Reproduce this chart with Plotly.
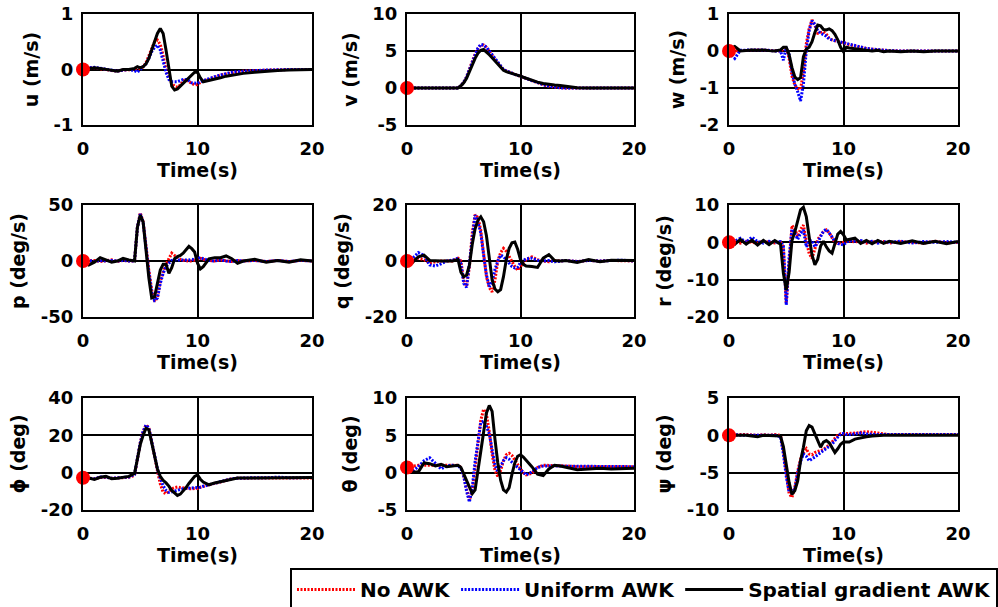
import plotly.graph_objects as go

# ---------------- data ----------------
T = [0, 0.5, 1, 1.5, 2, 2.5, 3, 3.5, 4, 4.5, 4.75, 5, 5.25, 5.5, 5.75, 6, 6.25, 6.5, 6.75,
     7, 7.25, 7.5, 7.75, 8, 8.25, 8.5, 8.75, 9, 9.25, 9.5, 9.75, 10, 10.25, 10.5, 11, 11.5,
     12, 12.5, 13, 13.5, 14, 15, 16, 17, 18, 19, 20]

SERIES_NAMES = ["No AWK", "Uniform AWK", "Spatial gradient AWK"]

# u (m/s)
U_NO = [0, 0.03, 0.03, 0.02, 0.0, -0.02, -0.03, -0.01, 0.0, 0.0, 0.0, 0.02, 0.05, 0.12, 0.25, 0.4, 0.5, 0.53, 0.45,
        0.25, 0.0, -0.15, -0.25, -0.3, -0.32, -0.28, -0.2, -0.19, -0.22, -0.26, -0.28, -0.27, -0.24, -0.2, -0.18, -0.14,
        -0.1, -0.08, -0.06, -0.04, -0.03, -0.02, -0.01, 0, 0, 0, 0]
U_UNI = [0, 0.03, 0.04, 0.02, 0.0, -0.02, -0.03, -0.01, 0.0, -0.02, -0.05, 0.0, 0.05, 0.1, 0.2, 0.32, 0.4, 0.44, 0.35,
         0.15, -0.05, -0.18, -0.22, -0.22, -0.22, -0.2, -0.18, -0.18, -0.2, -0.24, -0.25, -0.25, -0.22, -0.2, -0.17, -0.13,
         -0.1, -0.07, -0.05, -0.04, -0.03, -0.02, -0.01, 0, 0, 0, 0]
U_SG = [0, 0.02, 0.03, 0.02, 0.0, -0.02, -0.03, 0.0, 0.0, 0.02, 0.05, 0.03, 0.05, 0.1, 0.2, 0.35, 0.5, 0.65, 0.74,
        0.65, 0.35, 0.0, -0.3, -0.37, -0.35, -0.3, -0.25, -0.2, -0.15, -0.1, -0.05, -0.05, -0.15, -0.22, -0.2, -0.17,
        -0.15, -0.12, -0.1, -0.08, -0.07, -0.05, -0.03, -0.02, -0.01, -0.01, 0]

# v (m/s)
V_NO = [0, 0, 0, 0, 0, 0, 0, 0, 0, 0, 0.3, 0.8, 1.5, 2.5, 3.6, 4.6, 5.3, 5.8, 5.8,
        5.5, 5.0, 4.4, 3.9, 3.4, 2.9, 2.5, 2.3, 2.1, 2.0, 1.85, 1.7, 1.55, 1.4, 1.25, 0.95, 0.7,
        0.45, 0.25, 0.1, 0.03, 0, 0, 0, 0, 0, 0, 0]
V_UNI = [0, 0, 0, 0, 0, 0, 0, 0, 0, 0, 0.3, 0.8, 1.5, 2.5, 3.6, 4.6, 5.4, 5.9, 5.8,
         5.5, 5.0, 4.4, 3.9, 3.4, 2.9, 2.5, 2.3, 2.1, 2.0, 1.85, 1.7, 1.55, 1.4, 1.25, 0.95, 0.7,
         0.45, 0.25, 0.1, 0.03, 0, 0, 0, 0, 0, 0, 0]
V_SG = [0, 0, 0, 0, 0, 0, 0, 0, 0, 0, 0.3, 0.7, 1.3, 2.2, 3.2, 4.0, 4.7, 5.1, 5.2,
        4.9, 4.5, 4.1, 3.7, 3.2, 2.8, 2.4, 2.2, 2.1, 2.0, 1.9, 1.75, 1.6, 1.45, 1.3, 1.0, 0.8,
        0.6, 0.45, 0.4, 0.35, 0.25, 0.05, 0, 0, 0, 0, 0]

# w (m/s)
W_NO = [0.0, 0.0, 0.0, 0.01, 0.02, 0.03, 0.02, 0.0, 0.0, 0.0, 0.05, 0.1, -0.2, -0.68, -0.92, -1.02, -1.04, -0.55, 0.2,
        0.6, 0.84, 0.7, 0.48, 0.5, 0.52, 0.45, 0.35, 0.3, 0.28, 0.27, 0.26, 0.22, 0.2, 0.17, 0.13, 0.1,
        0.07, 0.05, 0.03, 0.02, 0.01, 0, 0, 0, 0, 0, 0]
W_UNI = [-0.05, -0.2, 0.02, 0.03, 0.02, 0.03, 0.03, 0.01, 0.0, 0.0, -0.25, 0.1, -0.1, -0.55, -0.9, -1.1, -1.35, -0.9, 0.0,
         0.55, 0.82, 0.72, 0.55, 0.48, 0.45, 0.4, 0.32, 0.3, 0.28, 0.27, 0.25, 0.22, 0.2, 0.18, 0.13, 0.1,
         0.07, 0.05, 0.03, 0.02, 0.01, 0, 0, 0, 0, 0, 0]
W_SG = [0.05, 0.12, 0.0, 0.02, 0.03, 0.02, 0.03, 0.01, 0.0, 0.03, 0.1, 0.1, -0.1, -0.45, -0.7, -0.77, -0.72, -0.15, 0.05,
        0.1, 0.25, 0.5, 0.7, 0.68, 0.58, 0.57, 0.6, 0.55, 0.45, 0.3, 0.1, -0.02, 0.1, 0.08, 0.06, 0.04,
        0.02, 0.0, 0.02, -0.02, 0.0, -0.02, 0.0, -0.02, 0.0, 0.0, 0.0]

# p (deg/s)
P_NO = [0, 0, 0.5, -0.5, 0.5, 1, -0.5, 0.5, 0, 0, 30, 43, 35, 12, -8, -26, -36, -33, -18,
        -10, -3, 2, 7, 5, 3, 1.5, 0.5, 0, 0, 0, 0.5, 1.5, 2.4, 1.5, 0.5, 0,
        1, 0, -0.5, 0.5, 0, 0.5, -0.5, 0.5, -0.5, 0.5, 0]
P_UNI = [0, 0.5, -0.5, 0.5, 0, 0.5, 0, 0.5, 0, 0, 30, 42, 35, 12, -10, -28, -35, -33, -20,
         -11, -5, -2, 0.5, 1, 1, 1, 0.5, 0.5, 1, 1.5, 1, 2, 3, 2, 0.5, 0,
         1, 0, -0.5, 0.5, 0, 0.5, -0.5, 0.5, -0.5, 0.5, 0]
P_SG = [0, -3.5, -1, 3, 1, -1, 0, 2.4, 1, 0, 30, 41, 35, 10, -15, -33, -32, -20, -8,
        -3, -3, -11, -6, 2, 4, 5, 7, 10, 13, 11, 8, -2, -7, -5, 2, 3,
        3, 4.5, 2, -2, 0, 1.5, -1, 0.5, -1, 1, 0]

# q (deg/s)
Q_NO = [0, 0.5, 1, 0.5, -0.8, -0.3, 0, 0, 0, 1, 0, -7, -9, -2, 10, 16.5, 15.5, 11, 3,
        -5.6, -9.5, -11, -6.8, 0, 3, 4.5, 3.5, 1.5, -0.5, -2.0, -3.2, -2.0, -0.8, 0.5, 1.5, 0.5,
        0, -0.3, 0.2, 0, 0.2, -0.2, 0.2, 0, 0.2, 0, 0]
Q_UNI = [0, 1, 3, 2, -1.4, -1.8, -1.0, 0, 0.3, 1, -1, -8, -9.4, -1, 9, 16.4, 14, 10, 2,
         -5, -9.2, -7.4, -3, 0, 2.1, 1.5, 0.4, -1.0, -2.0, -2.5, -2.2, -0.5, 0.3, 0.8, 1.0, 0.3,
         0, 0.2, -0.3, 0, 0.2, -0.2, 0.2, 0, 0.2, 0.3, 0]
Q_SG = [0, -0.5, 1.5, 2.1, 0.2, 0, 0, 0, 0, 0.5, -4, -5.6, -5, -1.5, 6, 11.5, 14.6, 15.8, 14,
        9, 1.5, -6.8, -10, -11, -10.2, -5.6, 0.5, 4.5, 6.5, 6.8, 4.2, 0.5, -1.2, -1.8, -2.0, -2.3,
        1.0, 2.3, 0.2, 0, 0.2, -0.5, 0.5, -0.3, 0.3, 0.3, 0.2]

# r (deg/s)
R_NO = [0, 0.2, -0.2, 0.3, 0, -0.2, 0.3, 0, -0.2, 0, -1.2, -16.3, -6, 4.5, 3.5, 1.5, 3.5, 4.6, 0.5,
        -3, -4.3, -1.5, 0.8, 1.8, 2.8, 3.3, 2.6, 1.2, 0, -0.3, -0.2, 0, 0.3, 0.4, 0.1, 0.3,
        -0.2, 0.2, 0, 0.2, -0.2, 0.2, 0, -0.2, 0.3, -0.1, 0]
R_UNI = [0, 0.3, 1.1, 0, 1.4, 0.2, -0.2, 0.3, 0, 0.2, -1, -16.8, -4, 3.5, 2.5, 0.8, 2.5, 3.3, -1.2,
         0.3, 0.5, -1.2, 0, 1.5, 3.0, 3.5, 2.6, 1.5, 0.2, -0.3, -0.5, -0.7, 0, 0.5, 0.3, 0.5,
         0, 0.3, -0.2, 0.2, 0, 0.3, -0.2, 0.2, 0, 0.2, 0]
R_SG = [0, -0.5, 0.8, -0.5, 0.6, -0.7, 0.5, -0.6, 0.5, -0.5, -8.3, -12.8, -8, 0.5, 2.8, 5.5, 8.7, 9.4, 6.9,
        1.5, -3.4, -6, -4.5, -1, 0.3, -1.2, -2.3, -2.9, -0.5, 2.2, 2.9, 2.0, 0.6, 0.8, 1.1, -0.3,
        0.5, -0.4, 0.5, -0.3, 0.3, -0.3, 0.4, -0.3, 0.3, -0.4, 0.2]

# phi (deg)
PHI_NO = [-2.7, -3, -3.2, -2.6, -2.5, -3, -2.8, -2.8, -2.5, -1.5, 8, 16, 22, 25.6, 24, 17, 9, 1, -6,
          -10.5, -11.3, -10, -8.6, -8, -7.7, -8, -8.3, -8.6, -8.6, -8.6, -8.6, -8.5, -7.8, -7.3, -6.5, -5.7,
          -5, -4, -3.2, -3, -2.9, -2.9, -2.9, -2.8, -2.9, -2.8, -2.8]
PHI_UNI = [-2.7, -3, -3.3, -2.3, -2.3, -3, -2.8, -2.5, -2.3, -1, 8, 16, 22, 25.5, 24, 17, 9, 2, -3,
           -7, -9.5, -10.5, -10.3, -10, -9.5, -9, -8.6, -8.5, -8.4, -8.3, -8.3, -8.2, -7.8, -7.3, -6.5, -5.7,
           -5, -4, -3.2, -3, -2.8, -2.7, -2.7, -2.4, -2.7, -2.6, -2.6]
PHI_SG = [-2.7, -2.9, -3.6, -2.5, -2.0, -3.2, -3.0, -2.3, -2.0, -0.5, 8, 15, 20, 23.8, 23, 16, 8, 2, -2,
          -4.1, -5.5, -7.2, -9.5, -11, -12.2, -11.5, -10, -8, -5.8, -3.8, -2, -1.2, -3.5, -5, -6.5, -5.5,
          -4.8, -4.1, -3.2, -2.9, -2.9, -2.8, -2.7, -2.6, -2.6, -2.5, -2.6]

# theta (deg)
TH_NO = [0.7, 0.9, 1.0, 1.0, 1.0, 1.0, 1.0, 1.0, 1.0, 1.0, 0.7, -0.5, -2.2, -3.7, -2.5, 0.5, 3.5, 7, 8.5,
         7.8, 5.5, 2.5, 0.3, -0.5, 0.3, 1.6, 2.4, 2.6, 2.3, 1.7, 1.0, 0.5, 0.0, -0.3, -0.1, 0.7,
         1.0, 1.0, 0.9, 0.9, 0.9, 0.8, 0.8, 0.8, 0.9, 0.8, 0.8]
TH_UNI = [0.7, 0.2, 0.8, 1.6, 2.0, 1.2, 0.5, 0.9, 1.0, 0.9, 0.6, -0.5, -2.5, -3.9, -2.0, 1.5, 4.2, 6.7, 6.9,
          6.2, 5.2, 2.8, 1.0, 0.15, 0.8, 1.6, 2.0, 1.8, 1.4, 1.0, 0.7, 0.4, 0.0, -0.3, 0.1, 0.7,
          0.9, 0.9, 0.8, 0.8, 0.8, 0.8, 0.8, 0.8, 0.8, 0.8, 0.8]
TH_SG = [0.7, 0.1, 0.1, 1.3, 1.2, 0.9, 1.1, 0.8, 0.9, 1.0, 0.7, -0.2, -1.0, -2.0, -2.8, -2.3, 0.2, 3, 5.3,
         8.0, 9, 8.2, 4.5, 1.3, -1.0, -2.3, -2.6, -2.0, -0.2, 1.3, 2.2, 2.4, 2.1, 1.7, 0.8, -0.2,
         -0.4, 0.5, 1.0, 0.9, 0.7, 0.4, 0.5, 0.6, 0.5, 0.6, 0.6]

# psi (deg)
PSI_NO = [0.0, 0.1, 0.1, 0.1, 0.0, 0.0, 0.1, 0.0, 0.1, 0.0, -2.0, -5.2, -7.8, -8.3, -7, -4.8, -3.2, -2.3, -1.8,
          -2.5, -2.6, -2.3, -2.2, -2.1, -1.9, -1.6, -1.3, -0.9, -0.4, 0.0, 0.2, 0.2, 0.2, 0.2, 0.3, 0.4,
          0.5, 0.4, 0.3, 0.25, 0.1, 0.1, 0.1, 0.1, 0.1, 0.1, 0.1]
PSI_UNI = [0, 0.1, 0.0, 0.0, 0.0, 0.0, 0.0, 0.0, 0.0, -0.2, -2.5, -5.5, -7.6, -7.6, -7.2, -5, -3.5, -2.5, -2.8,
           -3.4, -3.2, -2.9, -2.6, -2.3, -2.1, -1.8, -1.5, -1.2, -0.7, -0.3, 0.2, 0.25, 0.1, 0.1, 0.2, 0.3,
           0.2, 0.1, 0.1, 0.1, 0.1, 0.1, 0.1, 0.1, 0.1, 0.1, 0.1]
PSI_SG = [0, 0.0, 0.1, 0.0, -0.1, -0.2, 0.0, 0.0, 0.0, -0.1, -1.5, -3.8, -6.3, -7.9, -7.4, -6.1, -3.4, -1.6, 0.6,
          1.3, 1.1, 0.2, -0.8, -1.6, -0.9, -0.7, -1.0, -1.6, -2.3, -1.8, -1.2, -0.9, -0.9, -0.9, -0.5, -0.3,
          -0.2, -0.1, 0, 0, 0, 0, 0, 0, 0, 0, 0]

Y_TITLES = ["u (m/s)", "v (m/s)", "w (m/s)",
            "p (deg/s)", "q (deg/s)", "r (deg/s)",
            "ϕ (deg)", "θ (deg)", "ψ (deg)"]
Y_TICKS = [[-1, 0, 1], [-5, 0, 5, 10], [-2, -1, 0, 1],
           [-50, 0, 50], [-20, 0, 20], [-20, -10, 0, 10],
           [-20, 0, 20, 40], [-5, 0, 5, 10], [-10, -5, 0, 5]]
X_TITLE = "Time(s)"
X_TICKS = [0, 10, 20]

PANELS = [
    (U_NO, U_UNI, U_SG), (V_NO, V_UNI, V_SG), (W_NO, W_UNI, W_SG),
    (P_NO, P_UNI, P_SG), (Q_NO, Q_UNI, Q_SG), (R_NO, R_UNI, R_SG),
    (PHI_NO, PHI_UNI, PHI_SG), (TH_NO, TH_UNI, TH_SG), (PSI_NO, PSI_UNI, PSI_SG),
]

# ---------------- styling / layout ----------------
W, H = 998, 607
COLS_PX = [(83, 312), (407, 634), (729, 958)]
ROWS_PX = [(14, 125), (205, 317), (398, 510)]

FONT = "DejaVu Sans"
LINE_STYLES = [
    dict(color="#ff0000", width=3, dash="2px,1.5px"),
    dict(color="#0000ff", width=3, dash="2px,1.5px"),
    dict(color="#000000", width=3),
]


def lbl(v):
    return f"{v:g}"  # plain hyphen minus, as in the reference


fig = go.Figure()
layout = dict(
    width=W, height=H,
    margin=dict(l=0, r=0, t=0, b=0, autoexpand=False),
    paper_bgcolor="white", plot_bgcolor="white",
    font=dict(family=FONT, color="black", size=18, weight="bold"),
    showlegend=True,
)

for i, (series, ytitle, yt) in enumerate(zip(PANELS, Y_TITLES, Y_TICKS)):
    r, c = divmod(i, 3)
    k = i + 1
    xa = "x" if k == 1 else f"x{k}"
    ya = "y" if k == 1 else f"y{k}"
    x0, x1 = COLS_PX[c]
    y0, y1 = ROWS_PX[r]
    axis_common = dict(
        showline=True, linecolor="black", linewidth=2, mirror=True,
        showgrid=True, gridcolor="black", gridwidth=1.5,
        zeroline=False, ticks="", fixedrange=True, tickmode="array",
        tickfont=dict(family=FONT, size=18, color="black", weight="bold"),
    )
    layout["xaxis" if k == 1 else f"xaxis{k}"] = dict(
        axis_common, domain=[x0 / W, x1 / W], anchor=ya,
        range=[X_TICKS[0], X_TICKS[-1]], tickvals=X_TICKS, ticktext=[lbl(v) for v in X_TICKS],
        title=dict(text=X_TITLE, standoff=6,
                   font=dict(family=FONT, size=19, color="black", weight="bold")),
        ticklabelstandoff=6,
    )
    layout["yaxis" if k == 1 else f"yaxis{k}"] = dict(
        axis_common, domain=[1 - y1 / H, 1 - y0 / H], anchor=xa,
        range=[yt[0], yt[-1]], tickvals=yt, ticktext=[lbl(v) for v in yt],
        title=dict(text=ytitle, standoff=10,
                   font=dict(family=FONT, size=19, color="black", weight="bold")),
        ticklabelstandoff=4,
    )
    for j, (ys, name, st) in enumerate(zip(series, SERIES_NAMES, LINE_STYLES)):
        fig.add_trace(go.Scatter(
            x=T, y=ys, mode="lines", name=name, line=st,
            xaxis=xa, yaxis=ya, showlegend=(i == 0), legendgroup=name,
            hoverinfo="skip",
        ))
    # initial-condition marker
    fig.add_trace(go.Scatter(
        x=[T[0]], y=[series[0][0]], mode="markers",
        marker=dict(color="#ff0000", size=14, line=dict(width=0)),
        xaxis=xa, yaxis=ya, showlegend=False, cliponaxis=False, hoverinfo="skip",
    ))

layout["legend"] = dict(
    orientation="h", x=290 / W, y=1 - 568 / H, xanchor="left", yanchor="top",
    bgcolor="white", bordercolor="black", borderwidth=2,
    font=dict(family=FONT, size=20, color="black", weight="bold"),
    itemwidth=58, traceorder="normal",
)
fig.update_layout(**layout)
fig.write_html("out.html")
